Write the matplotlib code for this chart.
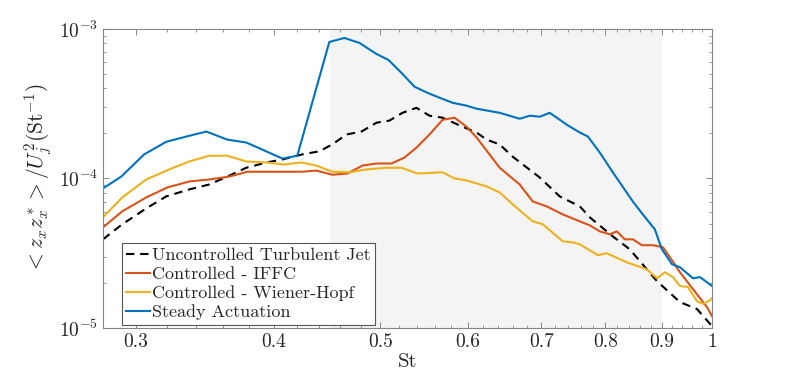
import numpy as np
import matplotlib
matplotlib.use("Agg")
import matplotlib.pyplot as plt
from matplotlib.ticker import FixedLocator, LogLocator, NullFormatter

plt.rcParams['font.family'] = ['cmr10', 'DejaVu Serif']
plt.rcParams['mathtext.fontset'] = 'cm'
plt.rcParams['axes.formatter.use_mathtext'] = True

# ---- data (PSD values in units of 1e-4) ----
st_unc = [0.280, 0.2915, 0.3065, 0.3196, 0.3353, 0.3497, 0.3631, 0.3778, 0.3940, 0.4074,
          0.4247, 0.4401, 0.4522, 0.4658, 0.4806, 0.4959, 0.5096, 0.5236, 0.5392, 0.5541,
          0.5694, 0.5937, 0.6114, 0.6243, 0.6416, 0.6593, 0.6977, 0.7274, 0.7586, 0.7746,
          0.8128, 0.8421, 0.8913, 0.9352, 0.9691, 1.0]
psd_unc = [0.392, 0.494, 0.631, 0.759, 0.845, 0.912, 1.03, 1.18, 1.28, 1.34,
           1.45, 1.52, 1.69, 1.97, 2.06, 2.36, 2.44, 2.75, 2.97, 2.63,
           2.55, 2.22, 2.03, 1.82, 1.69, 1.40, 1.015, 0.759, 0.651, 0.550,
           0.410, 0.336, 0.206, 0.149, 0.134, 0.103]

st_iffc = [0.280, 0.2915, 0.3065, 0.3203, 0.3353, 0.3497, 0.3646, 0.3786, 0.4023, 0.4247,
           0.4373, 0.4522, 0.4667, 0.4816, 0.4959, 0.5117, 0.5258, 0.5392, 0.5541, 0.5694,
           0.5839, 0.5987, 0.6114, 0.6416, 0.6690, 0.6875, 0.7079, 0.7320, 0.7586, 0.7746,
           0.7910, 0.8078, 0.8196, 0.8334, 0.8475, 0.8636, 0.8837, 0.9025, 0.9159, 0.9352,
           0.9610, 0.9896, 1.0]
psd_iffc = [0.471, 0.603, 0.747, 0.871, 0.955, 0.985, 1.03, 1.11, 1.11, 1.11,
            1.13, 1.06, 1.08, 1.22, 1.26, 1.26, 1.38, 1.61, 1.97, 2.47,
            2.55, 2.22, 1.88, 1.18, 0.912, 0.702, 0.651, 0.575, 0.517, 0.486,
            0.443, 0.423, 0.443, 0.392, 0.392, 0.358, 0.358, 0.347, 0.297, 0.236,
            0.182, 0.138, 0.120]

st_wh = [0.280, 0.2915, 0.3065, 0.3216, 0.3353, 0.3497, 0.3631, 0.3778, 0.3940, 0.4091,
         0.4238, 0.4373, 0.4522, 0.4687, 0.4857, 0.5064, 0.5225, 0.5404, 0.5694, 0.5839,
         0.5987, 0.6243, 0.6416, 0.6593, 0.6875, 0.7021, 0.7320, 0.7475, 0.7586, 0.7877,
         0.8027, 0.8369, 0.8727, 0.8913, 0.9063, 0.9216, 0.9352, 0.9510, 0.9691, 0.9813,
         0.9958, 1.0]
psd_wh = [0.550, 0.747, 0.985, 1.15, 1.30, 1.42, 1.42, 1.30, 1.28, 1.24,
          1.28, 1.22, 1.11, 1.10, 1.15, 1.18, 1.18, 1.08, 1.10, 1.00,
          0.970, 0.885, 0.807, 0.671, 0.517, 0.494, 0.380, 0.374, 0.363, 0.307,
          0.316, 0.275, 0.247, 0.215, 0.236, 0.219, 0.191, 0.188, 0.151, 0.145,
          0.153, 0.158]

st_steady = [0.280, 0.2909, 0.3052, 0.3196, 0.3353, 0.3475, 0.3631, 0.3778, 0.3907, 0.4074,
             0.4203, 0.4494, 0.4638, 0.4786, 0.4959, 0.5085, 0.5225, 0.5370, 0.5518, 0.5658,
             0.5814, 0.5987, 0.6114, 0.6416, 0.6690, 0.6832, 0.6977, 0.7124, 0.7382, 0.7586,
             0.7714, 0.7910, 0.8128, 0.8475, 0.8654, 0.8874, 0.9006, 0.9198, 0.9352, 0.9610,
             0.9752, 1.0]
psd_steady = [0.858, 1.03, 1.45, 1.76, 1.93, 2.06, 1.82, 1.74, 1.56, 1.36,
              1.42, 8.19, 8.71, 8.07, 6.81, 6.21, 5.09, 4.11, 3.74, 3.47,
              3.21, 3.07, 2.93, 2.75, 2.51, 2.63, 2.59, 2.75, 2.29, 2.03,
              1.91, 1.49, 1.10, 0.702, 0.575, 0.457, 0.336, 0.267, 0.255, 0.215,
              0.219, 0.191]

labels = ['Uncontrolled Turbulent Jet', 'Controlled - IFFC',
          'Controlled - Wiener-Hopf', 'Steady Actuation']
xtick_vals = [0.3, 0.4, 0.5, 0.6, 0.7, 0.8, 0.9, 1.0]
xtick_labels = ['0.3', '0.4', '0.5', '0.6', '0.7', '0.8', '0.9', '1']
band = (0.45, 0.9)
scale = 1e-4

fig = plt.figure(figsize=(7.89, 3.81), dpi=100)
ax = fig.add_axes([0.1305, 0.1391, 0.7719, 0.7848])

ax.axvspan(band[0], band[1], color='#f4f4f4', lw=0, zorder=0)

lw = 1.5
ax.plot(st_unc, np.array(psd_unc) * scale, color='black', lw=lw, ls=(0, (4, 2.8)), label=labels[0])
ax.plot(st_iffc, np.array(psd_iffc) * scale, color='#D95319', lw=lw, label=labels[1])
ax.plot(st_wh, np.array(psd_wh) * scale, color='#EDB120', lw=lw, label=labels[2])
ax.plot(st_steady, np.array(psd_steady) * scale, color='#0072BD', lw=lw, label=labels[3])

ax.set_xscale('log')
ax.set_yscale('log')
ax.set_xlim(0.28, 1.0)
ax.set_ylim(1e-5, 1e-3)

ax.xaxis.set_major_locator(FixedLocator(xtick_vals))
ax.set_xticklabels(xtick_labels)
ax.xaxis.set_minor_locator(FixedLocator(np.arange(0.28, 1.0, 0.02)))
ax.xaxis.set_minor_formatter(NullFormatter())
ax.yaxis.set_major_locator(LogLocator(base=10, numticks=10))
ax.yaxis.set_minor_locator(LogLocator(base=10, subs=np.arange(2, 10), numticks=20))
ax.yaxis.set_minor_formatter(NullFormatter())

axis_col = '#858585'
text_col = '#262626'
for s in ax.spines.values():
    s.set_color(axis_col)
    s.set_linewidth(0.8)
ax.tick_params(which='both', direction='in', top=True, right=True, colors=axis_col,
               labelcolor=text_col, labelsize=14)
ax.tick_params(which='major', length=4.5, width=0.7)
ax.tick_params(which='minor', length=2.5, width=0.6)

ax.set_xlabel('St', fontsize=15, color=text_col, labelpad=2)
ax.set_ylabel(r'$<z_x z_x^*>/U_j^2(\mathrm{St}^{-1})$', fontsize=15.5, color=text_col, labelpad=3)

leg = ax.legend(loc='lower left', bbox_to_anchor=(0.031, 0.01), borderaxespad=0,
                fontsize=13, handlelength=1.3, handletextpad=0.12, labelspacing=0.18,
                borderpad=0.25, frameon=True, fancybox=False, framealpha=1)
leg.get_frame().set_edgecolor('#555555')
leg.get_frame().set_linewidth(0.8)
for t in leg.get_texts():
    t.set_color(text_col)

fig.savefig('out.png', dpi=100)
